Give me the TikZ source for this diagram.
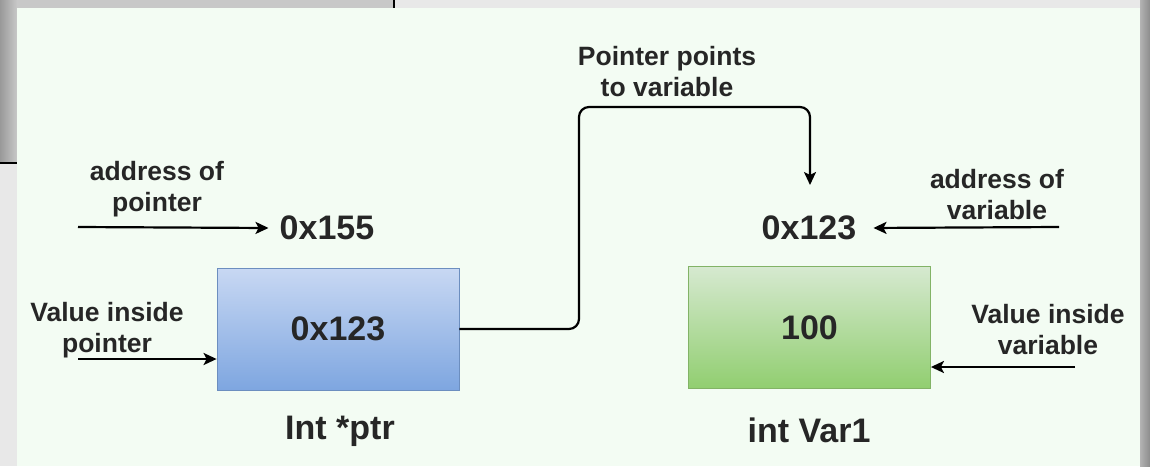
\documentclass[tikz,border=0pt]{standalone}
\usepackage{fontspec}
\setmainfont{Liberation Sans}
\usetikzlibrary{arrows.meta}

\definecolor{mintbg}{RGB}{243,252,243}
\definecolor{winback}{RGB}{200,200,200}
\definecolor{stripgray}{RGB}{232,232,232}
\definecolor{blueline}{RGB}{108,142,191}
\definecolor{greenline}{RGB}{130,179,102}

\begin{document}
\begin{tikzpicture}[x=1pt,y=-1pt,
  arr/.style={line width=2.2pt, -{Stealth[length=13pt,width=12pt,inset=3pt]}},
  membox/.style={draw, line width=0.8pt, minimum width=242pt, minimum height=122pt,
    text=black!85, font=\fontsize{34}{40}\selectfont\bfseries},
  big/.style={inner sep=11pt, text=black!85, font=\fontsize{34}{40}\selectfont\bfseries},
  lbl/.style={align=center, inner sep=0pt, text=black!85, font=\fontsize{26.5}{31}\selectfont\bfseries}]

\useasboundingbox (0,0) rectangle (1150,466);

% Background windows
\fill[stripgray] (0,0) rectangle (1150,466);
\fill[winback] (0,0) rectangle (394,163);
\shade[left color=black!40, right color=winback] (0,0) rectangle (17,163);
\draw[line width=1.2pt] (0,163) -- (394,163) -- (394,0);
\shade[left color=black!30, right color=black!45] (1140,0) rectangle (1150,466);
\fill[mintbg] (17,8) rectangle (1140,466);

% Memory boxes
\node[membox, color=blueline, top color={rgb,255:red,200;green,216;blue,243}, bottom color={rgb,255:red,126;green,166;blue,224}, text=black!85] (ptrbox) at (338,329) {0x123};
\node[membox, color=greenline, top color={rgb,255:red,214;green,233;blue,208}, bottom color={rgb,255:red,145;green,206;blue,112}, text=black!85] (varbox) at (809.5,327.5) {100};

% Addresses and names
\node[big] (ptraddr) at (327,228) {0x155};
\node[big] (varaddr) at (809,228) {0x123};
\node[big] (ptrname) at (340,431) {Int *ptr};
\node[big] (varname) at (809,430) {int Var1};

% Labels
\node[lbl] (lblpoints) at (667,72) {Pointer points\\to variable};
\node[lbl] (lblptraddr) at (157,189) {address of\\pointer};
\node[lbl] (lblptrval) at (107,330) {Value inside\\pointer};
\node[lbl] (lblvaraddr) at (997,195) {address of\\variable};
\node[lbl] (lblvarval) at (1048,330) {Value inside\\variable};

% Free ends of the arrows
\coordinate (ptraddrin) at (78,227);
\coordinate (ptrvalin) at (78,359);
\coordinate (varaddrin) at (1059,227);
\coordinate (varvalin) at (1075,367);
\coordinate (bend) at (579,107);
\coordinate (tip) at (810,185);

% Arrows
\draw[arr] (ptraddrin) -- (ptraddr.west);
\draw[arr] (ptrvalin) -- (ptrvalin -| ptrbox.west);
\draw[arr, shorten >=6pt] (varaddrin) -- (varaddr.east);
\draw[arr] (varvalin) -- (varvalin -| varbox.east);
\draw[arr, rounded corners=10pt] (ptrbox.east) -| (bend) -| (tip);

\end{tikzpicture}
\end{document}
